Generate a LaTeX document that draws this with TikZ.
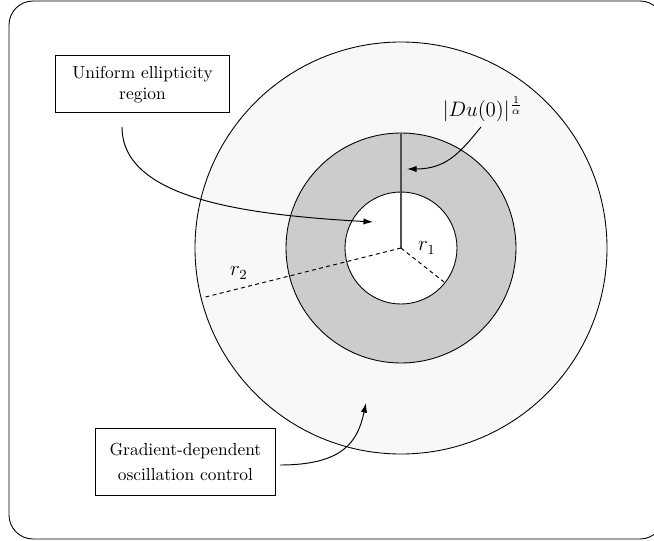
\documentclass[tikz,border=0pt]{standalone}
\usetikzlibrary{arrows.meta}
\definecolor{lightfill}{HTML}{F9F8F9}
\definecolor{ringgray}{HTML}{CCCCCC}
\definecolor{axisgray}{HTML}{505050}
\begin{document}
\begin{tikzpicture}[x=0.5738pt,y=-0.5738pt,
  line width=0.5pt,
  labelbox/.style={draw,line width=0.55pt,align=center,inner sep=0pt},
  pointer/.style={-{Latex[length=5.5pt,width=3.6pt]},line width=0.55pt},
  radiusline/.style={dash pattern=on 2.3pt off 1.9pt,line width=0.55pt}]
\useasboundingbox (0,0) rectangle (654,541);
\draw[rounded corners=13.8pt] (9,1) rectangle (664,539);
\coordinate (c) at (401,248);
\fill[lightfill] (c) circle (206);
\draw (c) circle (206);
\fill[ringgray] (c) circle (115);
\draw (c) circle (115);
\fill[white] (c) circle (56);
\draw (c) circle (56);
\coordinate (ringtop) at (401,133);
\coordinate (r1end) at (444,282);
\coordinate (r2end) at (202.7,297.7);
\draw[axisgray,line width=0.75pt] (c) -- (ringtop);
\draw[radiusline] (c) -- (r1end);
\draw[radiusline] (c) -- (r2end);
\node (r1) at (427,248) {\large $r_1$};
\node (r2) at (239,273) {\large $r_2$};
\node (du) at (483,109) {\large $|Du(0)|^{\frac{1}{\alpha}}$};
\node[labelbox,minimum width=99.3pt,minimum height=32.7pt] (box1) at (142.5,84.2)
  {Uniform ellipticity\\ region};
\node[labelbox,minimum width=103.7pt,minimum height=37.9pt] (box2) at (185.4,462)
  {Gradient-dependent\\[2.3pt] oscillation control};
\coordinate (a1s) at (122,127);
\coordinate (a1e) at (373,222);
\coordinate (a2s) at (481,127);
\coordinate (a2e) at (407,169);
\coordinate (a3s) at (280,465);
\coordinate (a3e) at (366,403);
\draw[pointer] (a1s) .. controls (122,200) and (250,215) .. (a1e);
\draw[pointer] (a2s) .. controls (462,150) and (448,169) .. (a2e);
\draw[pointer] (a3s) .. controls (345,465) and (358,440) .. (a3e);
\end{tikzpicture}
\end{document}
